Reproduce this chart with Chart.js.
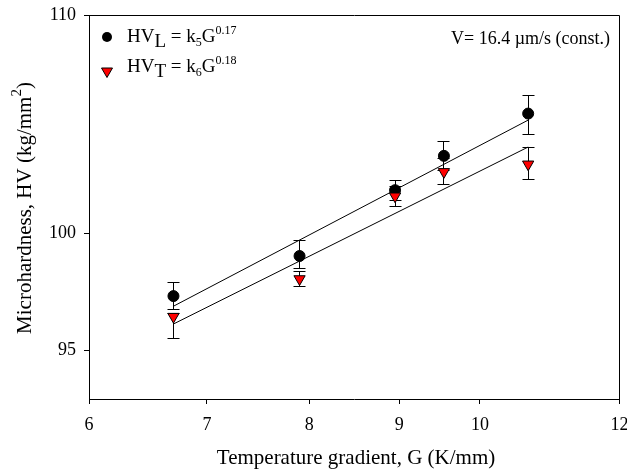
<!DOCTYPE html>
<html>
<head>
<meta charset="utf-8">
<script src="https://cdn.jsdelivr.net/npm/chart.js@4.4.0/dist/chart.umd.min.js"></script>
<style>
    body { margin: 0; background: #fff; }
    canvas { display: block; }
</style>
</head>
<body>
<canvas id="myChart" width="627" height="472"></canvas>
<script>
// values (G in K/mm, HV in kg/mm2)
const gradient = [6.7, 7.9, 8.95, 9.54, 10.65]
const hvL = [97.28, 99.0, 101.89, 103.43, 105.36]
const hvLLow = [96.7, 98.45, 101.45, 102.79, 104.41]
const hvLHigh = [97.86, 99.66, 102.34, 104.07, 106.18]
const hvT = [96.41, 98.01, 101.62, 102.71, 103.05]
const hvTLow = [95.49, 97.67, 101.18, 102.14, 102.37]
const hvTHigh = [96.55, 98.34, 102.07, 103.29, 103.83]

// fitted power-law lines, end points
const fitX = [6.7, 10.65]
const fitL = [96.85, 105.06]
const fitT = [96.1, 103.83]

const xTicks = [6, 7, 8, 9, 10, 12]
const yTicks = [95, 100, 110]

const serif = "'Liberation Serif', 'Times New Roman', serif"

function toPoints(xs, ys) {
    return xs.map(function (x, i) {
        return { x: x, y: ys[i] }
    })
}

// draws text pieces one after another: [text, size, dy]
function drawRuns(ctx, runs, x, y) {
    runs.forEach(function (r) {
        ctx.font = r[1] + 'px ' + serif
        ctx.fillText(r[0], x, y + r[2])
        x += ctx.measureText(r[0]).width
    })
}
function runsWidth(ctx, runs) {
    let w = 0
    runs.forEach(function (r) {
        ctx.font = r[1] + 'px ' + serif
        w += ctx.measureText(r[0]).width
    })
    return w
}

function crisp(v) {
    return Math.round(v - 0.5) + 0.5
}

// error bars behind the markers
const errorBars = {
    id: 'errorBars',
    beforeDatasetsDraw(chart) {
        const ctx = chart.ctx
        const xs = chart.scales.x
        const ys = chart.scales.y
        ctx.save()
        ctx.strokeStyle = '#000'
        ctx.lineWidth = 1
        ;[[hvLLow, hvLHigh], [hvTLow, hvTHigh]].forEach(function (s) {
            gradient.forEach(function (g, i) {
                const px = crisp(xs.getPixelForValue(g))
                const top = crisp(ys.getPixelForValue(s[1][i]))
                const bot = crisp(ys.getPixelForValue(s[0][i]))
                ctx.beginPath()
                ctx.moveTo(px, top)
                ctx.lineTo(px, bot)
                ctx.moveTo(px - 6, top)
                ctx.lineTo(px + 6, top)
                ctx.moveTo(px - 6, bot)
                ctx.lineTo(px + 6, bot)
                ctx.stroke()
            })
        })
        ctx.restore()
    },
}

// frame, axis titles, legend and note
const decorations = {
    id: 'decorations',
    afterDraw(chart) {
        const ctx = chart.ctx
        const a = chart.chartArea
        ctx.save()
        ctx.strokeStyle = '#000'
        ctx.lineWidth = 1
        ctx.beginPath()
        ctx.moveTo(crisp(a.left), crisp(a.top))
        ctx.lineTo(crisp(a.right), crisp(a.top))
        ctx.lineTo(crisp(a.right), crisp(a.bottom))
        ctx.stroke()

        ctx.fillStyle = '#000'
        ctx.textBaseline = 'alphabetic'
        ctx.textAlign = 'left'

        // x title
        const xTitle = [['Temperature gradient, G (K/mm)', 21, 0]]
        drawRuns(ctx, xTitle, 356 - runsWidth(ctx, xTitle) / 2, 464)

        // y title
        const yTitle = [
            ['Microhardness, HV (kg/mm', 21, 0],
            ['2', 15, -10],
            [')', 21, 0],
        ]
        ctx.save()
        ctx.translate(31, 208)
        ctx.rotate(-Math.PI / 2)
        drawRuns(ctx, yTitle, -runsWidth(ctx, yTitle) / 2, 0)
        ctx.restore()

        // legend
        ctx.beginPath()
        ctx.arc(107, 37, 5, 0, Math.PI * 2)
        ctx.fill()
        ctx.beginPath()
        ctx.moveTo(101.5, 68)
        ctx.lineTo(112.5, 68)
        ctx.lineTo(107, 77.5)
        ctx.closePath()
        ctx.fillStyle = '#ff0000'
        ctx.fill()
        ctx.stroke()
        ctx.fillStyle = '#000'

        drawRuns(ctx, [
            ['HV', 19, 0], ['L', 19, 5], [' = k', 19, 0],
            ['5', 12, 4], ['G', 19, 0], ['0.17', 12, -8],
        ], 127, 42)
        drawRuns(ctx, [
            ['HV', 19, 0], ['T', 19, 5], [' = k', 19, 0],
            ['6', 12, 4], ['G', 19, 0], ['0.18', 12, -8],
        ], 127, 72)

        // growth rate note
        ctx.textAlign = 'right'
        ctx.font = '18px ' + serif
        ctx.fillText('V= 16.4 \u00b5m/s (const.)', 610, 44)
        ctx.restore()
    },
}

const ctx = document.getElementById('myChart').getContext('2d')
const myChart = new Chart(ctx, {
    type: 'scatter',
    data: {
        datasets: [
            {
                label: 'HVT',
                data: toPoints(gradient, hvT),
                pointStyle: 'triangle',
                pointRotation: 180,
                pointRadius: 6.5,
                backgroundColor: '#ff0000',
                borderColor: '#000',
                borderWidth: 1,
            },
            {
                label: 'HVL',
                data: toPoints(gradient, hvL),
                pointStyle: 'circle',
                pointRadius: 5.5,
                backgroundColor: '#000',
                borderColor: '#000',
                borderWidth: 1,
            },
            {
                label: 'fit L',
                data: toPoints(fitX, fitL),
                showLine: true,
                pointRadius: 0,
                borderColor: '#000',
                borderWidth: 1,
            },
            {
                label: 'fit T',
                data: toPoints(fitX, fitT),
                showLine: true,
                pointRadius: 0,
                borderColor: '#000',
                borderWidth: 1,
            },
        ],
    },
    options: {
        responsive: false,
        devicePixelRatio: 1,
        animation: false,
        layout: {
            padding: { top: 15, right: 7, bottom: 0, left: 0 },
        },
        plugins: {
            legend: { display: false },
            tooltip: { enabled: false },
        },
        scales: {
            x: {
                type: 'logarithmic',
                min: 6,
                max: 12,
                afterBuildTicks: function (s) {
                    s.ticks = xTicks.map(function (v) { return { value: v } })
                },
                afterFit: function (s) {
                    s.height = 73
                    s.paddingLeft = 0
                    s.paddingRight = 0
                },
                ticks: {
                    callback: function (v) { return String(v) },
                    font: { family: serif, size: 18 },
                    color: '#000',
                    padding: 10,
                    maxRotation: 0,
                    autoSkip: false,
                },
                grid: { drawOnChartArea: false, tickLength: 5, color: '#000' },
                border: { color: '#000', width: 1 },
            },
            y: {
                type: 'logarithmic',
                min: 93,
                max: 110,
                afterBuildTicks: function (s) {
                    s.ticks = yTicks.map(function (v) { return { value: v } })
                },
                afterFit: function (s) {
                    s.width = 89
                    s.paddingTop = 0
                    s.paddingBottom = 0
                },
                ticks: {
                    callback: function (v) { return String(v) },
                    font: { family: serif, size: 18 },
                    color: '#000',
                    padding: 8,
                    autoSkip: false,
                },
                grid: { drawOnChartArea: false, tickLength: 5, color: '#000' },
                border: { color: '#000', width: 1 },
            },
        },
    },
    plugins: [errorBars, decorations],
})
</script>
</body>
</html>
